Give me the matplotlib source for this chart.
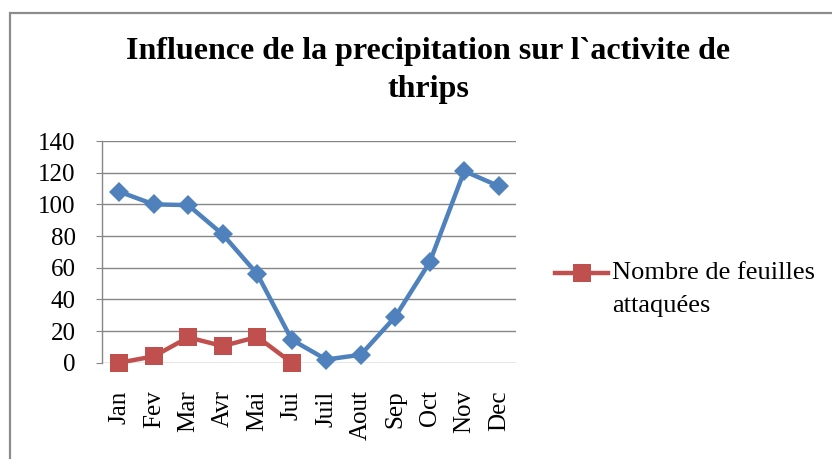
import matplotlib
matplotlib.use("Agg")
import matplotlib.pyplot as plt
from matplotlib.lines import Line2D
from matplotlib.patches import Rectangle

months = ["Jan", "Fev", "Mar", "Avr", "Mai", "Jui", "Juil", "Aout", "Sep", "Oct", "Nov", "Dec"]
precipitation = [108, 100, 99.5, 81, 56, 14.5, 2, 5, 29, 63.5, 121, 111.5]
feuilles = [0, 4, 16, 10.5, 16.3, 0]
yticks = [0, 20, 40, 60, 80, 100, 120, 140]

blue = "#4F81BD"
red = "#C0504D"
grid_c = "#868686"
serif = ["Liberation Serif", "DejaVu Serif"]

fig = plt.figure(figsize=(8.32, 4.59), dpi=100)
fig.patch.set_facecolor("white")

# outer chart frame (cut off on right and bottom)
fig.add_artist(Rectangle((9.5 / 832, -0.05), 1.2, 1 - 13 / 459 + 0.05,
                         transform=fig.transFigure, fill=False,
                         edgecolor="#8C8C8C", linewidth=1.6))

ax = fig.add_axes([102 / 832, 1 - 362.7 / 459, (516 - 102) / 832, (362.7 - 141) / 459])
x = list(range(len(months)))
ax.plot(x, precipitation, color=blue, linewidth=3.2, marker="D", markersize=10.5,
        markeredgewidth=0, zorder=3, clip_on=False)
ax.plot(x[:len(feuilles)], feuilles, color=red, linewidth=3.2, marker="s", markersize=13,
        markeredgewidth=0, zorder=4, clip_on=False)

ax.set_xlim(-0.5, len(months) - 0.5)
ax.set_ylim(0, 140)
ax.set_yticks(yticks)
ax.set_yticklabels([str(v) for v in yticks], fontfamily=serif, fontsize=18)
ax.set_xticks(x)
ax.set_xticklabels(months, rotation=90, fontfamily=serif, fontsize=18)
ax.tick_params(axis="x", length=0, pad=20)
ax.tick_params(axis="y", length=4, color=grid_c, pad=15)
ax.yaxis.grid(True, color=grid_c, linewidth=1.0)
ax.set_axisbelow(True)
for s in ["top", "right", "bottom"]:
    ax.spines[s].set_visible(False)
ax.spines["left"].set_color(grid_c)
ax.spines["left"].set_linewidth(1.0)

fig.text(428 / 832, 1 - 52 / 459, "Influence de la precipitation sur l`activite de",
         ha="center", va="center", fontfamily=serif, fontweight="bold", fontsize=23)
fig.text(428 / 832, 1 - 90 / 459, "thrips",
         ha="center", va="center", fontfamily=serif, fontweight="bold", fontsize=23)

# legend
fig.add_artist(Line2D([555 / 832, 608 / 832], [1 - 273 / 459, 1 - 273 / 459],
                      transform=fig.transFigure, color=red, linewidth=3.2))
fig.add_artist(Line2D([581.5 / 832], [1 - 273 / 459], transform=fig.transFigure,
                      color=red, marker="s", markersize=13, markeredgewidth=0))
fig.text(612 / 832, 1 - 273 / 459, "Nombre de feuilles", ha="left", va="center",
         fontfamily=serif, fontsize=19)
fig.text(612 / 832, 1 - 306 / 459, "attaquées", ha="left", va="center",
         fontfamily=serif, fontsize=19)

fig.savefig("out.png", dpi=100)
